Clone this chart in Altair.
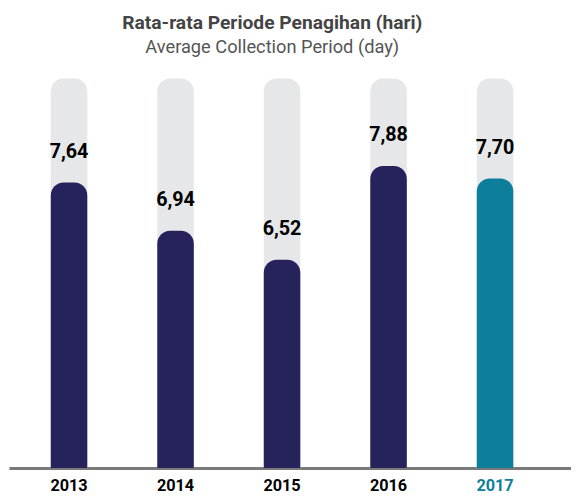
import altair as alt
import pandas as pd

years = ["2013", "2014", "2015", "2016", "2017"]
values = [7.64, 6.94, 6.52, 7.88, 7.70]
labels = ["7,64", "6,94", "6,52", "7,88", "7,70"]
highlight = ["base", "base", "base", "base", "current"]

AXIS_MIN = 3.5
AXIS_MAX = 9.15

df = pd.DataFrame({"year": years, "value": values, "label": labels, "kind": highlight})

FONT = "Roboto"
NAVY = "#26225c"
TEAL = "#0e7e9d"
GRAY = "#e6e7e8"

x = alt.X(
    "year:N",
    sort=years,
    title=None,
    scale=alt.Scale(paddingInner=0.657, paddingOuter=0.467, align=0.42),
    axis=alt.Axis(
        labelAngle=0,
        labelFont=FONT,
        labelFontSize=16.5,
        labelFontWeight="bold",
        labelColor={"condition": {"test": "datum.value == '2017'", "value": TEAL}, "value": "#000000"},
        labelPadding=10,
        ticks=False,
        domainColor="#7a7a7a",
        domainWidth=3,
    ),
)
yscale = alt.Scale(domain=[AXIS_MIN, AXIS_MAX], zero=False, nice=False)

base = alt.Chart(df)

bg = base.mark_bar(color=GRAY, cornerRadiusTopLeft=13, cornerRadiusTopRight=13).transform_calculate(
    value=str(AXIS_MAX)
).encode(
    x=x,
    y=alt.Y("value:Q", scale=yscale, axis=None),
    y2=alt.datum(AXIS_MIN),
)

bars = base.mark_bar(cornerRadiusTopLeft=13, cornerRadiusTopRight=13).encode(
    x=x,
    y=alt.Y("value:Q", scale=yscale, axis=None),
    y2=alt.datum(AXIS_MIN),
    color=alt.Color("kind:N", scale=alt.Scale(domain=["base", "current"], range=[NAVY, TEAL]), legend=None),
)

text = base.mark_text(
    font=FONT, fontSize=20, fontWeight="bold", color="#000000", baseline="middle", dy=-31
).encode(
    x=x,
    y=alt.Y("value:Q", scale=yscale, axis=None),
    text="label:N",
)

chart = alt.layer(bg, bars, text).properties(
    width=570,
    height=395,
    padding={"left": 1, "right": 0, "top": 2, "bottom": 0},
    title=alt.TitleParams(
        text="Rata-rata Periode Penagihan (hari)",
        subtitle="Average Collection Period (day)",
        font=FONT,
        fontSize=19.5,
        fontWeight="bold",
        color="#444444",
        subtitleFont=FONT,
        subtitleFontSize=18.5,
        subtitleColor="#555555",
        subtitlePadding=5,
        anchor="middle",
        dx=-18,
        offset=21,
    ),
).configure_view(stroke=None)

chart.save("out.html", embed_options={"renderer": "svg", "actions": False})
